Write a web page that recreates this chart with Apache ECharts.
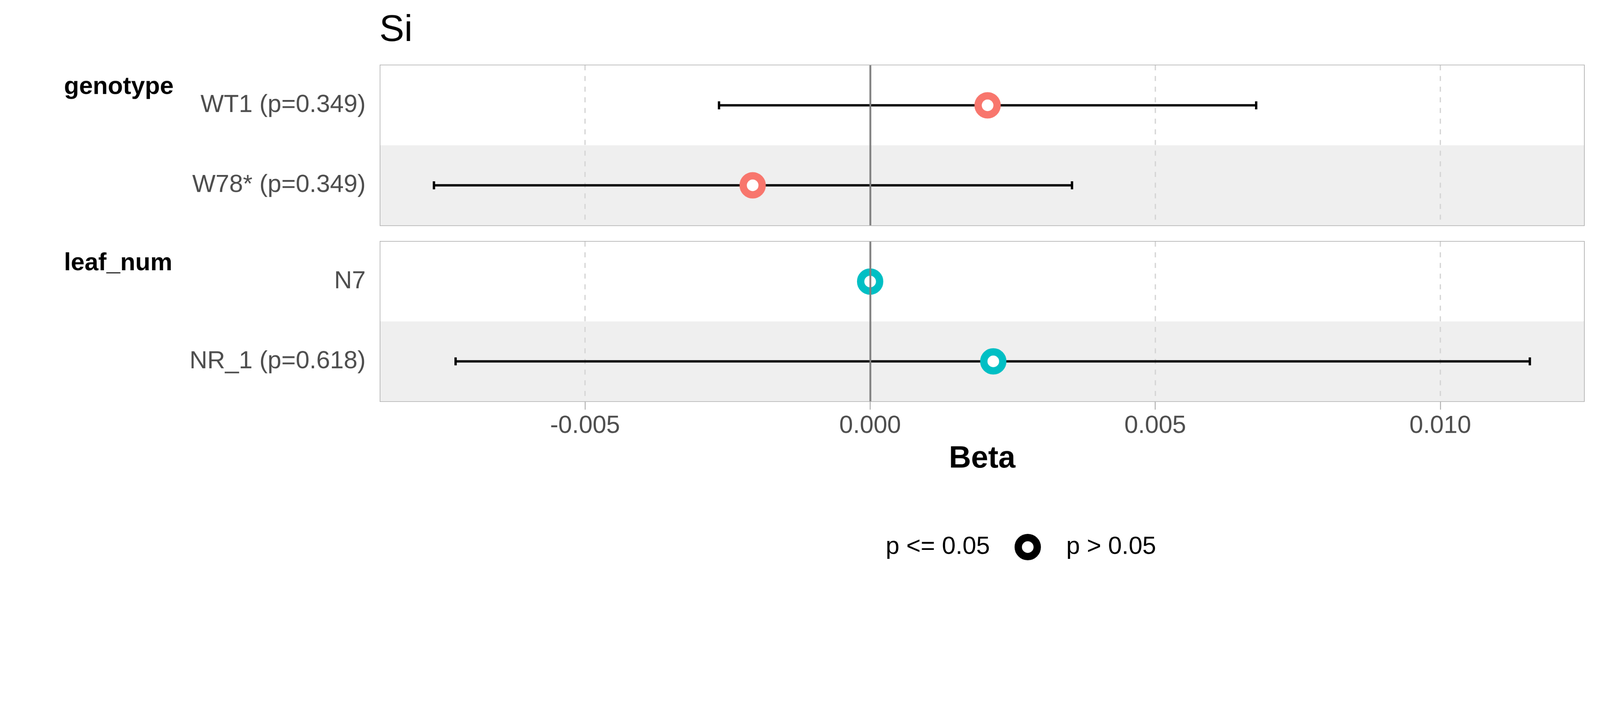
<!DOCTYPE html>
<html lang="en">
<head>
<meta charset="UTF-8" />
<title>Si</title>
<style>html,body{margin:0;padding:0;background:#fff;overflow:hidden}</style>
</head>
<body>
<!-- 按 4800x1800 设计，按窗口等比缩放 -->
<div id="wrap" style="width:4800px;height:1800px;transform-origin:0 0">
  <div id="main" style="width:4800px;height:1800px"></div>
</div>
<script src="https://cdn.jsdelivr.net/npm/echarts@6.0.0/dist/echarts.min.js"></script>
<script>
// genotype 面板
var genoTerms = ['WT1 (p=0.349)', 'W78* (p=0.349)'];
var genoBeta = [0.00206, -0.00206];
var genoLow = [-0.00265, -0.00765];
var genoHigh = [0.00677, 0.00354];

// leaf_num 面板
var leafTerms = ['N7', 'NR_1 (p=0.618)'];
var leafBeta = [0, 0.00216];
var leafLow = [null, -0.00727];
var leafHigh = [null, 0.01157];

// x 轴
var xTicks = [-0.005, 0, 0.005, 0.010];
var xMin = -0.00859, xMax = 0.01252;

var FONT = 'Liberation Sans';

function fit() {
  var s = Math.min(window.innerWidth / 4800, window.innerHeight / 1800);
  document.getElementById('wrap').style.transform = 'scale(' + s + ')';
}
fit();
window.addEventListener('resize', fit);

var myChart = echarts.init(document.getElementById('main'));

function barData(low, high) {
  var out = [];
  low.forEach(function (lo, i) {
    if (lo != null) out.push([i, lo, high[i]]);
  });
  return out;
}

function pointData(beta) {
  return beta.map(function (b, i) { return [b, i]; });
}

// 误差线
function errorBar(params, api) {
  var y = api.value(0);
  var lo = api.coord([api.value(1), y]);
  var hi = api.coord([api.value(2), y]);
  var cap = 12;
  var st = { stroke: '#000', lineWidth: 7 };
  return {
    type: 'group',
    children: [
      { type: 'line', shape: { x1: lo[0], y1: lo[1], x2: hi[0], y2: hi[1] }, style: st },
      { type: 'line', shape: { x1: lo[0], y1: lo[1] - cap, x2: lo[0], y2: lo[1] + cap }, style: st },
      { type: 'line', shape: { x1: hi[0], y1: hi[1] - cap, x2: hi[0], y2: hi[1] + cap }, style: st }
    ]
  };
}

// 0 参考线
function zeroLine(idx) {
  return {
    type: 'line', xAxisIndex: idx, yAxisIndex: idx, data: [], z: 1, silent: true,
    markLine: {
      silent: true, symbol: 'none', label: { show: false },
      lineStyle: { color: '#7F7F7F', width: 5.5, type: 'solid' },
      data: [{ xAxis: 0 }]
    }
  };
}

function xAxisOf(idx, bottom) {
  var ax = {
    gridIndex: idx, type: 'value', min: xMin, max: xMax,
    axisLine: { show: false },
    axisTick: { show: bottom, customValues: xTicks, length: 25, lineStyle: { color: '#B3B3B3', width: 3 } },
    axisLabel: {
      show: bottom, customValues: xTicks, fontSize: 74, color: '#4D4D4D', margin: 38, fontFamily: FONT,
      formatter: function (v) { return v.toFixed(3); }
    },
    splitLine: { show: true, lineStyle: { color: '#D6D6D6', width: 4, type: [15, 17] } }
  };
  if (bottom) {
    ax.name = 'Beta';
    ax.nameLocation = 'middle';
    ax.nameGap = 128;
    ax.nameTextStyle = { fontSize: 92, fontWeight: 'bold', color: '#000', fontFamily: FONT };
  }
  return ax;
}

function yAxisOf(idx, terms) {
  return {
    gridIndex: idx, type: 'category', data: terms, inverse: true,
    axisLine: { show: false }, axisTick: { show: false },
    axisLabel: { fontSize: 74, color: '#4D4D4D', margin: 44, fontFamily: FONT },
    splitLine: { show: false },
    splitArea: { show: true, areaStyle: { color: ['#FFFFFF', '#EFEFEF'] } }
  };
}

var gridBase = { left: 1141, width: 3611, show: true, borderColor: '#B3B3B3', borderWidth: 4, backgroundColor: 'transparent' };

var option = {
  backgroundColor: '#fff',
  textStyle: { fontFamily: FONT },
  animation: false,
  title: [
    { text: 'Si', left: 1138, top: 36, padding: 0, textStyle: { fontSize: 112, fontWeight: 'normal', color: '#000', fontFamily: FONT } },
    { text: 'genotype', left: 192, top: 225, padding: 0, textStyle: { fontSize: 74, fontWeight: 'bold', color: '#000', fontFamily: FONT } },
    { text: 'leaf_num', left: 192, top: 754, padding: 0, textStyle: { fontSize: 74, fontWeight: 'bold', color: '#000', fontFamily: FONT } }
  ],
  grid: [
    Object.assign({ top: 196, height: 480 }, gridBase),
    Object.assign({ top: 725, height: 479 }, gridBase)
  ],
  xAxis: [xAxisOf(0, false), xAxisOf(1, true)],
  yAxis: [yAxisOf(0, genoTerms), yAxisOf(1, leafTerms)],
  legend: {
    left: 2508, top: 1597, orient: 'horizontal', selectedMode: false,
    itemWidth: 57, itemHeight: 57, itemGap: 74,
    textStyle: { fontSize: 74, color: '#000', fontFamily: FONT, padding: [0, 0, 0, 82] },
    data: [
      { name: 'p <= 0.05', icon: 'circle', itemStyle: { color: 'rgba(0,0,0,0)', borderColor: 'rgba(0,0,0,0)', borderWidth: 0 } },
      { name: 'p > 0.05', icon: 'circle', itemStyle: { color: '#fff', borderColor: '#000', borderWidth: 22 } }
    ]
  },
  series: [
    zeroLine(0),
    zeroLine(1),
    { type: 'custom', xAxisIndex: 0, yAxisIndex: 0, renderItem: errorBar, data: barData(genoLow, genoHigh), encode: { x: [1, 2], y: 0 }, z: 2 },
    { type: 'custom', xAxisIndex: 1, yAxisIndex: 1, renderItem: errorBar, data: barData(leafLow, leafHigh), encode: { x: [1, 2], y: 0 }, z: 2 },
    {
      name: 'p > 0.05', type: 'scatter', xAxisIndex: 0, yAxisIndex: 0, z: 3,
      symbol: 'circle', symbolSize: 57, data: pointData(genoBeta),
      itemStyle: { color: '#fff', borderColor: '#F8766D', borderWidth: 22, opacity: 1 }
    },
    {
      name: 'p > 0.05', type: 'scatter', xAxisIndex: 1, yAxisIndex: 1, z: 3,
      symbol: 'circle', symbolSize: 57, data: pointData(leafBeta),
      itemStyle: { color: '#fff', borderColor: '#00BFC4', borderWidth: 22, opacity: 1 }
    },
    { name: 'p <= 0.05', type: 'scatter', xAxisIndex: 1, yAxisIndex: 1, data: [] }
  ]
};

myChart.setOption(option);
</script>
</body>
</html>
